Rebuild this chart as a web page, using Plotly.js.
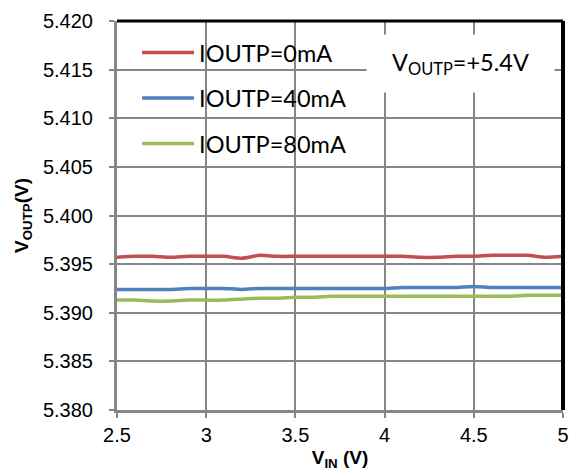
<!DOCTYPE html>
<html>
<head>
<meta charset="utf-8">
<script src="https://cdn.plot.ly/plotly-3.0.1.min.js"></script>
<style>
  html, body { margin: 0; padding: 0; background: #ffffff; }
  #chart { width: 573px; height: 472px; }
</style>
</head>
<body>
<div id="chart"></div>
<script>
// Input voltage sweep (V)
const vin = [2.5, 2.6, 2.7, 2.8, 2.9, 3.0, 3.1, 3.2, 3.3, 3.4, 3.5, 3.6, 3.7,
             3.8, 3.9, 4.0, 4.1, 4.2, 4.3, 4.4, 4.5, 4.6, 4.7, 4.8, 4.9, 5.0];

// Output voltage (V) at each load current
const vout0mA = [5.3957, 5.3958, 5.3958, 5.3957, 5.3958, 5.3958, 5.3958, 5.3956, 5.3959,
                 5.3958, 5.3958, 5.3958, 5.3958, 5.3958, 5.3958, 5.3958, 5.3958, 5.3957,
                 5.3957, 5.3958, 5.3958, 5.3959, 5.3959, 5.3959, 5.3957, 5.3958];
const vout40mA = [5.3924, 5.3924, 5.3924, 5.3924, 5.3925, 5.3925, 5.3925, 5.3924, 5.3925,
                  5.3925, 5.3925, 5.3925, 5.3925, 5.3925, 5.3925, 5.3925, 5.3926, 5.3926,
                  5.3926, 5.3926, 5.3927, 5.3926, 5.3926, 5.3926, 5.3926, 5.3926];
const vout80mA = [5.3913, 5.3913, 5.3912, 5.3912, 5.3913, 5.3913, 5.3913, 5.3914, 5.3915,
                  5.3915, 5.3916, 5.3916, 5.3917, 5.3917, 5.3917, 5.3917, 5.3917, 5.3917,
                  5.3917, 5.3917, 5.3917, 5.3917, 5.3917, 5.3918, 5.3918, 5.3918];

const seriesNames = ['IOUTP=0mA', 'IOUTP=40mA', 'IOUTP=80mA'];
const seriesColors = ['#C0504D', '#4F81BD', '#9BBB59'];
const seriesValues = [vout0mA, vout40mA, vout80mA];

const xTicks = [2.5, 3, 3.5, 4, 4.5, 5];
const xTickText = ['2.5', '3', '3.5', '4', '4.5', '5'];
const yTicks = [5.380, 5.385, 5.390, 5.395, 5.400, 5.405, 5.410, 5.415, 5.420];

const traces = seriesValues.map((vals, i) => ({
  x: vin,
  y: vals,
  type: 'scatter',
  mode: 'lines',
  name: seriesNames[i],
  legendgroup: 'g' + i,
  line: { color: seriesColors[i], width: 3.5, shape: 'spline', smoothing: 0.6 }
}));

const grid = '#868686';
const tickFont = { family: 'Liberation Sans, Arial, sans-serif', size: 20, color: '#000000' };
const titleFont = { family: 'Liberation Sans, Arial, sans-serif', size: 19, color: '#000000', weight: 'bold' };
const labelFont = { family: 'Lato, sans-serif', size: 23.5, color: '#000000' };

const layout = {
  width: 573,
  height: 472,
  margin: { l: 117, r: 10, t: 21, b: 62 },
  paper_bgcolor: '#ffffff',
  plot_bgcolor: '#ffffff',
  showlegend: true,
  legend: {
    x: 0.045, y: 0.975, xanchor: 'left', yanchor: 'top',
    bgcolor: 'rgba(255,255,255,0)',
    borderwidth: 0,
    font: labelFont,
    traceorder: 'grouped',
    tracegroupgap: 12,
    itemwidth: 52
  },
  xaxis: {
    range: [2.5, 5],
    tickvals: xTicks,
    ticktext: xTickText,
    tickfont: tickFont,
    showgrid: true, gridcolor: grid, gridwidth: 2,
    showline: true, linecolor: grid, linewidth: 3,
    ticks: 'outside', ticklen: 5, tickcolor: grid, tickwidth: 2,
    zeroline: false,
    title: { text: 'V<sub>IN</sub> (V)', font: titleFont, standoff: 6 }
  },
  yaxis: {
    range: [5.380, 5.420],
    tickvals: yTicks,
    tickformat: '.3f',
    tickfont: tickFont,
    showgrid: true, gridcolor: grid, gridwidth: 2,
    showline: true, linecolor: grid, linewidth: 3,
    ticks: 'outside', ticklen: 5, tickcolor: grid, tickwidth: 2,
    ticklabelstandoff: 12,
    zeroline: false,
    title: { text: 'V<sub>OUTP</sub>(V)', font: titleFont, standoff: 10 }
  },
  shapes: [
    // white panel behind the legend, above the gridlines
    { type: 'rect', xref: 'paper', yref: 'paper',
      x0: 0.018, x1: 0.546, y0: 0.63, y1: 0.99,
      fillcolor: '#ffffff', line: { width: 0 }, layer: 'between' },
    { type: 'line', xref: 'paper', yref: 'paper', x0: 0, x1: 1, y0: 1, y1: 1,
      line: { color: '#000000', width: 3 }, layer: 'above' },
    { type: 'line', xref: 'paper', yref: 'paper', x0: 1, x1: 1, y0: 0, y1: 1,
      line: { color: '#000000', width: 4 }, layer: 'above' }
  ],
  annotations: [
    {
      text: 'V<sub>OUTP</sub>=+5.4V',
      xref: 'paper', yref: 'paper',
      x: 0.77, y: 0.89, xanchor: 'center', yanchor: 'middle',
      showarrow: false,
      bgcolor: '#ffffff',
      width: 185, height: 55,
      font: labelFont
    }
  ]
};

Plotly.newPlot('chart', traces, layout, { displayModeBar: false, staticPlot: true });
</script>
</body>
</html>
